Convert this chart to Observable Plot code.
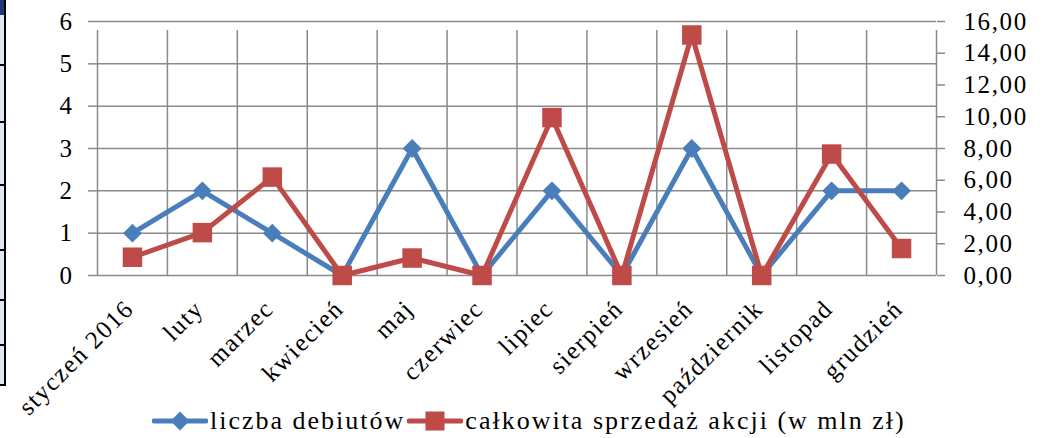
<!DOCTYPE html>
<html><head><meta charset="utf-8">
<script src="https://cdn.jsdelivr.net/npm/d3@7"></script>
<script src="https://cdn.jsdelivr.net/npm/@observablehq/plot@0.6"></script>
<style>
body{margin:0;background:#fff;}
#wrap{position:relative;width:1044px;height:438px;overflow:hidden;font-family:"Liberation Serif",serif;background:#fff;}
#legend{position:absolute;left:152px;top:408px;display:flex;align-items:center;font-size:26px;line-height:26px;letter-spacing:2px;color:#000;white-space:nowrap;}
#legend .item{display:flex;align-items:center;margin-right:2px;}
#legend svg{display:block;margin-right:2px;}
</style></head><body><div id="wrap"></div>
<script>
const months = ["styczeń 2016","luty","marzec","kwiecień","maj","czerwiec","lipiec","sierpień","wrzesień","październik","listopad","grudzień"];
const debuts = [1,2,1,0,3,0,2,0,3,0,2,2];
const sales = [1.15,2.7,6.2,0,1.1,0,9.95,0,15.15,0,7.65,1.7];
const leftTicks = [0,1,2,3,4,5,6];
const rightTicks = [0,2,4,6,8,10,12,14,16];
const seriesNames = ["liczba debiutów","całkowita sprzedaż akcji (w mln zł)"];
const colors = ["#4A7EBB","#BE4B48"];

const k = 6/16;
const dataB = debuts.map((v,i)=>({i:i+0.5, v}));
const dataR = sales.map((v,i)=>({i:i+0.5, v:v*k}));
const edges = d3.range(0, months.length+1);
const grid = "#8a8a8a";
const font = "Liberation Serif";

const plot = Plot.plot({
  width:1044, height:438,
  marginLeft:97, marginRight:108, marginTop:21, marginBottom:163,
  x:{domain:[0, months.length]},
  y:{domain:[0,6]},
  style:{fontFamily:font, fontSize:"25px", color:"#000", background:"transparent", overflow:"visible", letterSpacing:"1.6px"},
  marks:[
    Plot.ruleY(leftTicks, {x1:0, x2:months.length, stroke:grid, strokeWidth:1.5}),
    Plot.ruleX(edges, {y1:0, y2:6, insetBottom:-9, stroke:grid, strokeWidth:1.5}),
    Plot.axisY(leftTicks, {anchor:"left", tickSize:9, tickPadding:15, label:null, stroke:grid, strokeWidth:1.5, fill:"#000", fontSize:25}),
    Plot.axisY(rightTicks.map(v=>v*k), {anchor:"right", tickSize:8, tickPadding:19, label:null, stroke:grid, strokeWidth:1.5, fill:"#000", fontSize:25,
      tickFormat: d => (d/k).toFixed(2).replace(".", ",")}),
    Plot.axisX(months.map((m,i)=>i+0.5), {tickSize:0, tickPadding:14, tickRotate:-45, label:null, fill:"#000", fontSize:25, dx:-3, dy:15,
      tickFormat: d => months[Math.floor(d)]}),
    Plot.line(dataB, {x:"i", y:"v", stroke:colors[0], strokeWidth:5}),
    Plot.dot(dataB, {x:"i", y:"v", symbol:"diamond2", r:8.5, fill:colors[0], stroke:"none"}),
    Plot.line(dataR, {x:"i", y:"v", stroke:colors[1], strokeWidth:5}),
    Plot.dot(dataR, {x:"i", y:"v", symbol:"square", r:11, fill:colors[1], stroke:"none"})
  ]
});
const wrap = document.getElementById("wrap");
wrap.appendChild(plot);

// cropped page border artifact on the left edge
const strip = document.createElement("div");
strip.style.cssText="position:absolute;left:0;top:0;width:4px;height:385px;background:#dfe6f0;border-right:2px solid #000;";
wrap.appendChild(strip);
const navy = document.createElement("div");
navy.style.cssText="position:absolute;left:0;top:0;width:4px;height:15px;background:#1f3a7a;";
wrap.appendChild(navy);
[65,122,185,250,300,345,385].forEach(t=>{
  const d=document.createElement("div");
  d.style.cssText=`position:absolute;left:0;top:${t-1}px;width:6px;height:2px;background:#000;`;
  wrap.appendChild(d);
});

// legend
const leg = document.createElement("div");
leg.id="legend";
const sw = [
  `<svg width="56" height="22"><line x1="2" x2="54" y1="11" y2="11" stroke="${colors[0]}" stroke-width="5" stroke-linecap="round"/><path d="M28,1.5L37.5,11L28,20.5L18.5,11Z" fill="${colors[0]}"/></svg>`,
  `<svg width="56" height="22"><line x1="2" x2="54" y1="11" y2="11" stroke="${colors[1]}" stroke-width="5" stroke-linecap="round"/><rect x="18.5" y="1.5" width="19" height="19" fill="${colors[1]}"/></svg>`
];
seriesNames.forEach((n,i)=>{
  const it=document.createElement("div"); it.className="item";
  it.innerHTML = sw[i] + `<span>${n}</span>`;
  leg.appendChild(it);
});
wrap.appendChild(leg);
</script></body></html>
